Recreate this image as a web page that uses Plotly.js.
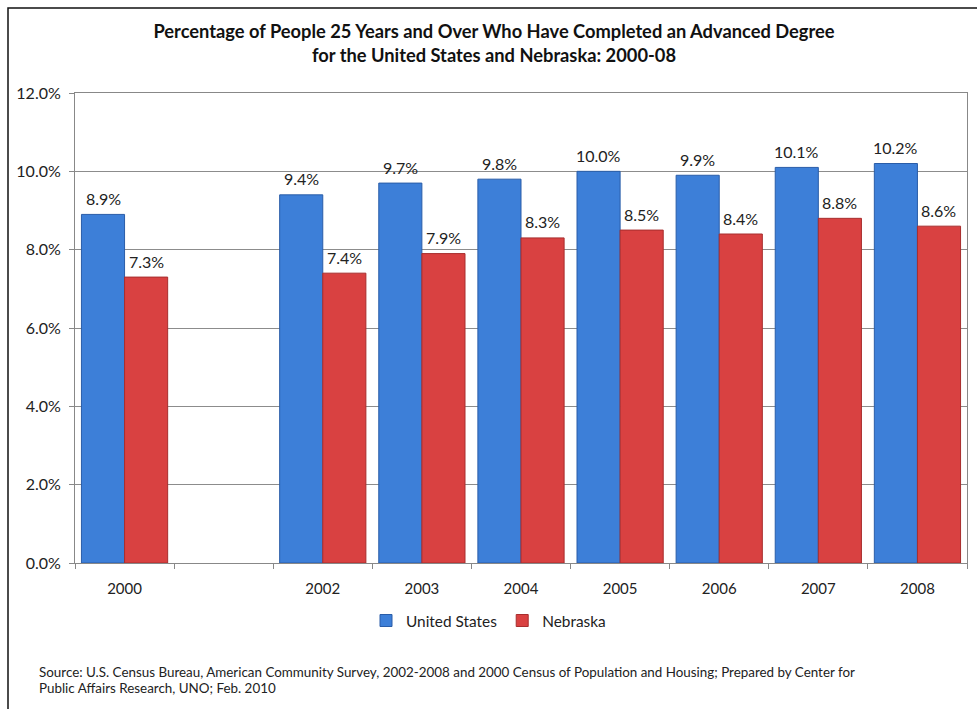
<!DOCTYPE html>
<html>
<head>
<meta charset="utf-8">
<script src="https://cdn.plot.ly/plotly-3.0.1.min.js"></script>
<style>
  html, body { margin: 0; padding: 0; background: #fff; }
  #chart { width: 977px; height: 709px; }
</style>
</head>
<body>
<div id="chart"></div>
<script>
// ---- data ----
const categories = ['2000', '2001', '2002', '2003', '2004', '2005', '2006', '2007', '2008'];
const tickLabels = ['2000', '', '2002', '2003', '2004', '2005', '2006', '2007', '2008'];
const unitedStates = [8.9, null, 9.4, 9.7, 9.8, 10.0, 9.9, 10.1, 10.2];
const nebraska = [7.3, null, 7.4, 7.9, 8.3, 8.5, 8.4, 8.8, 8.6];
const yTicks = [0, 2, 4, 6, 8, 10, 12];
const titleText = 'Percentage of People 25 Years and Over Who Have Completed an Advanced Degree<br>for the United States and Nebraska: 2000-08';
const sourceLines = [
  'Source: U.S. Census Bureau, American Community Survey, 2002-2008 and 2000 Census of Population and Housing; Prepared by Center for',
  'Public Affairs Research, UNO; Feb. 2010'
];

const FONT = 'Lato, "Open Sans", "DejaVu Sans", sans-serif';
const W = 977, H = 709;
const M = { l: 75, r: 10, t: 93, b: 146 };
const plotW = W - M.l - M.r, plotH = H - M.t - M.b;
const px = x => (x - M.l) / plotW;
const py = y => (H - M.b - y) / plotH;

const blue = '#3d7fd8', blueEdge = '#2a5da8';
const red = '#d94141', redEdge = '#a82e2e';

const traces = [
  {
    type: 'bar', name: 'United States', x: categories, y: unitedStates,
    marker: { color: blue, line: { color: blueEdge, width: 1 } },
    hoverinfo: 'skip'
  },
  {
    type: 'bar', name: 'Nebraska', x: categories, y: nebraska,
    marker: { color: red, line: { color: redEdge, width: 1 } },
    hoverinfo: 'skip'
  }
];

const annotations = [];
const barShift = 21.5;
const labelFont = { family: FONT, size: 16, color: '#222' };
categories.forEach((c, i) => {
  if (unitedStates[i] != null) {
    annotations.push({ x: i, y: unitedStates[i], xref: 'x', yref: 'y', text: unitedStates[i].toFixed(1) + '%',
      showarrow: false, xshift: -barShift, yshift: 16, font: labelFont });
  }
  if (nebraska[i] != null) {
    annotations.push({ x: i, y: nebraska[i], xref: 'x', yref: 'y', text: nebraska[i].toFixed(1) + '%',
      showarrow: false, xshift: barShift, yshift: 16, font: labelFont });
  }
});
sourceLines.forEach((t, i) => {
  annotations.push({ text: t, xref: 'paper', yref: 'paper', x: px(37), y: py(672 + i * 16),
    xanchor: 'left', yanchor: 'middle', showarrow: false, font: { family: FONT, size: 13.4, color: '#222' } });
});

const layout = {
  width: W, height: H,
  margin: M,
  paper_bgcolor: '#fff', plot_bgcolor: '#fff',
  font: { family: FONT, color: '#222', size: 15 },
  title: {
    text: '<b>' + titleText + '</b>',
    font: { family: FONT, size: 18.3, color: '#111' },
    x: 494 / W, xref: 'container', xanchor: 'center',
    y: 1 - 38 / H, yref: 'container', yanchor: 'middle'
  },
  barmode: 'group', bargap: 0.13, bargroupgap: 0,
  xaxis: {
    type: 'category', range: [-0.5, categories.length - 0.5],
    tickmode: 'array', tickvals: categories.map((c, i) => i), ticktext: tickLabels,
    tickson: 'boundaries', ticks: 'outside', ticklen: 5, tickcolor: '#888',
    ticklabelstandoff: 12,
    showline: true, linecolor: '#888', linewidth: 1, mirror: true,
    showgrid: false, tickfont: { family: FONT, size: 15, color: '#222' }, fixedrange: true
  },
  yaxis: {
    range: [0, 12], tickvals: yTicks, ticktext: yTicks.map(v => v.toFixed(1) + '%'),
    ticks: 'outside', ticklen: 5, tickcolor: '#888',
    ticklabelstandoff: 5,
    showgrid: true, gridcolor: '#8c8c8c', gridwidth: 1,
    showline: true, linecolor: '#888', linewidth: 1, mirror: true,
    zeroline: false, tickfont: { family: FONT, size: 16, color: '#222' }, fixedrange: true
  },
  showlegend: true,
  legend: {
    orientation: 'h', x: px(366), xanchor: 'left', xref: 'paper',
    y: py(621), yanchor: 'middle',
    font: { family: FONT, size: 15.4, color: '#222' },
    traceorder: 'normal'
  },
  annotations: annotations,
  shapes: [
    { type: 'rect', xref: 'paper', yref: 'paper', x0: px(8), x1: px(1000), y0: py(730), y1: py(8),
      line: { color: '#111', width: 1.5 }, fillcolor: 'rgba(0,0,0,0)', layer: 'below' }
  ]
};

Plotly.newPlot('chart', traces, layout, { displayModeBar: false, staticPlot: true });
</script>
</body>
</html>
